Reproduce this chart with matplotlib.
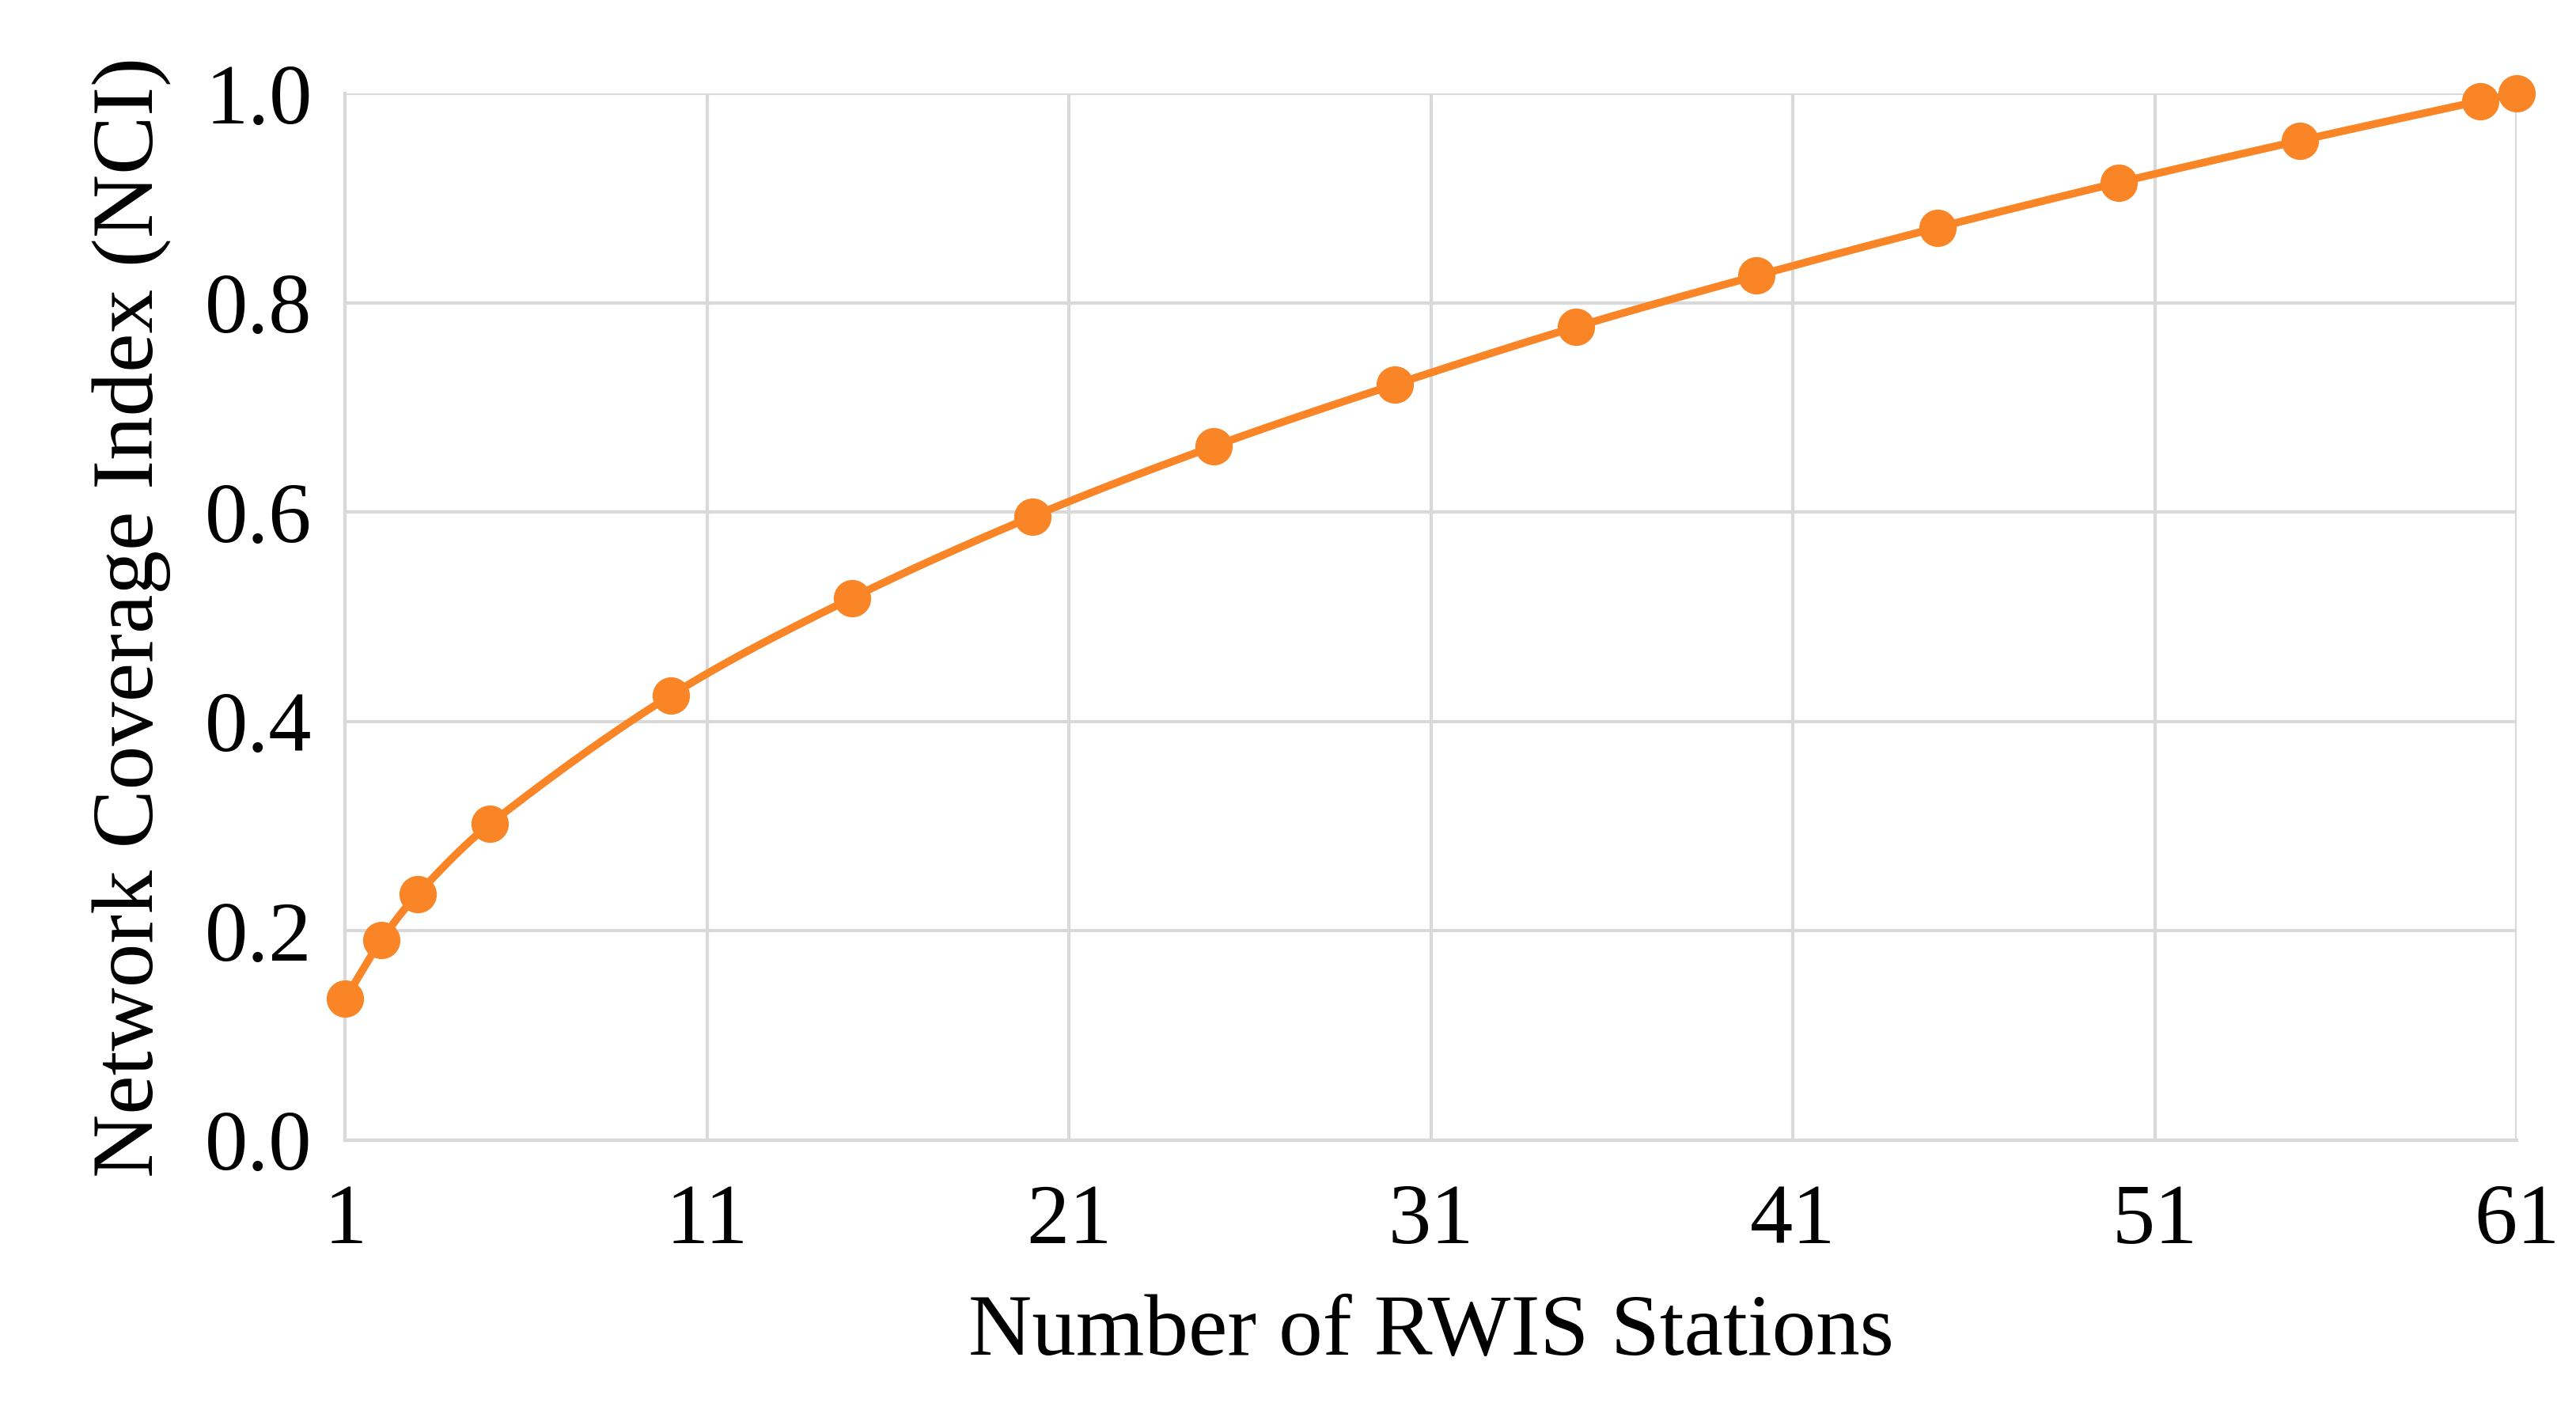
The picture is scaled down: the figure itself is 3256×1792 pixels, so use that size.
import numpy as np
import matplotlib
matplotlib.use("Agg")
import matplotlib.pyplot as plt

stations = [1, 2, 3, 5, 10, 15, 20, 25, 30, 35, 40, 45, 50, 55, 60, 61]
nci = [0.135, 0.191, 0.235, 0.302, 0.425, 0.518, 0.596, 0.663, 0.722,
       0.777, 0.826, 0.872, 0.915, 0.955, 0.993, 1.0]
x_ticks = [1, 11, 21, 31, 41, 51, 61]
y_ticks = [0.0, 0.2, 0.4, 0.6, 0.8, 1.0]

ORANGE = "#F98527"
GRID = "#D9D9D9"


def smooth(x, y, n=30):
    # Catmull-Rom style curve through the points, like Excel's smoothed line
    x = np.asarray(x, float)
    y = np.asarray(y, float)
    xs, ys = [], []
    for i in range(len(x) - 1):
        x0, x1 = x[i], x[i + 1]
        y0, y1 = y[i], y[i + 1]
        h = x1 - x0
        m0 = (y1 - y[i - 1]) / (x1 - x[i - 1]) if i > 0 else (y1 - y0) / h
        m1 = (y[i + 2] - y0) / (x[i + 2] - x0) if i + 2 < len(x) else (y1 - y0) / h
        t = np.linspace(0, 1, n)
        h00 = 2 * t**3 - 3 * t**2 + 1
        h10 = t**3 - 2 * t**2 + t
        h01 = -2 * t**3 + 3 * t**2
        h11 = t**3 - t**2
        xs.append(x0 + t * h)
        ys.append(h00 * y0 + h10 * h * m0 + h01 * y1 + h11 * h * m1)
    return np.concatenate(xs), np.concatenate(ys)


plt.rcParams["font.family"] = ["Liberation Serif", "DejaVu Serif"]

fig = plt.figure(figsize=(32.56, 17.92), dpi=100)
ax = fig.add_axes([0.134, 0.196, 0.843, 0.738])

sx, sy = smooth(stations, nci)
ax.plot(sx, sy, color=ORANGE, lw=7, zorder=3, clip_on=False)
ax.plot(stations, nci, "o", color=ORANGE, ms=33, zorder=4, clip_on=False)

ax.set_xlim(1, 61)
ax.set_ylim(0, 1.0)
ax.set_xticks(x_ticks)
ax.set_yticks(y_ticks)
ax.set_yticklabels([f"{v:.1f}" for v in y_ticks])
ax.grid(True, color=GRID, lw=3)
ax.set_axisbelow(True)
for s in ["top", "right"]:
    ax.spines[s].set_visible(False)
for s in ["left", "bottom"]:
    ax.spines[s].set_color(GRID)
    ax.spines[s].set_linewidth(3)
ax.tick_params(length=0, labelsize=78, colors="black")
ax.tick_params(axis="x", pad=40)
ax.tick_params(axis="y", pad=30)
ax.set_xlabel("Number of RWIS Stations", fontsize=80, labelpad=30)
ax.set_ylabel("Network Coverage Index (NCI)", fontsize=80, labelpad=30)

fig.savefig("out.png", dpi=100)
